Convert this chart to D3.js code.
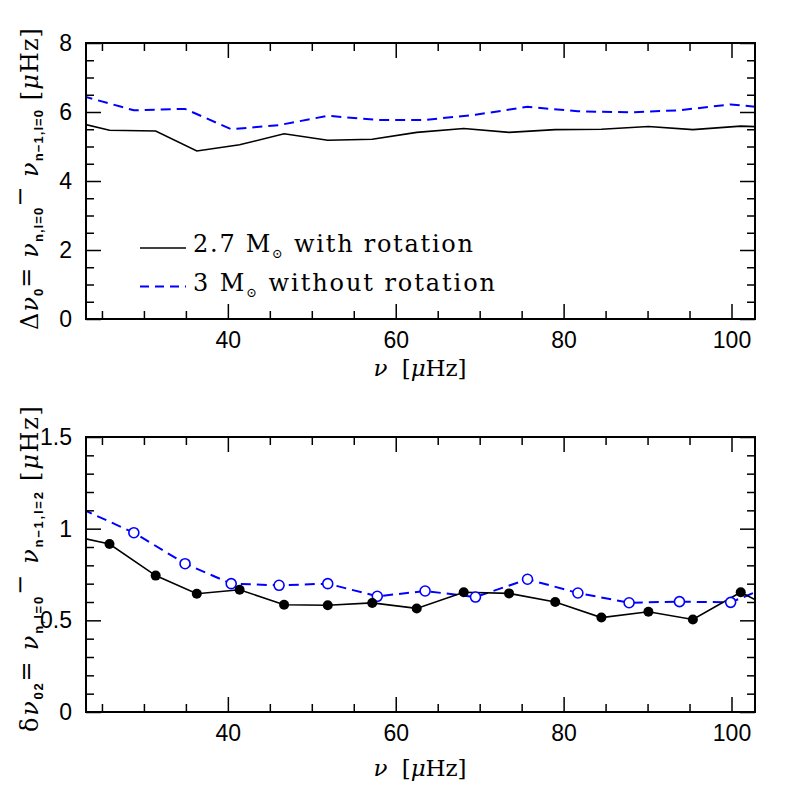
<!DOCTYPE html>
<html>
<head>
<meta charset="utf-8">
<script src="https://cdn.jsdelivr.net/npm/d3@7"></script>
<style>
  body { margin: 0; background: #fff; }
</style>
</head>
<body>
<div id="chart"></div>
<script>
// frequencies of the radial modes (muHz), 2.7 Msun model with rotation
const nuRot = [20.6, 25.9, 31.4, 36.3, 41.4, 46.7, 51.9, 57.2, 62.5, 68.1, 73.5, 79.0, 84.5, 90.1, 95.4, 101.1, 106.5];
const dnu0Rot = [5.78, 5.47, 5.45, 4.87, 5.05, 5.37, 5.18, 5.21, 5.41, 5.52, 5.41, 5.49, 5.50, 5.58, 5.49, 5.59, 5.55];
const dnu02Rot = [0.97, 0.916, 0.744, 0.645, 0.667, 0.585, 0.582, 0.595, 0.565, 0.653, 0.647, 0.600, 0.515, 0.547, 0.505, 0.653, 0.525];

// 3 Msun model without rotation
const nuNoRot = [22.7, 28.8, 34.9, 40.4, 46.1, 51.9, 57.8, 63.5, 69.5, 75.7, 81.7, 87.8, 93.8, 99.9, 106.0];
const dnu0NoRot = [6.46, 6.05, 6.09, 5.50, 5.62, 5.89, 5.77, 5.77, 5.92, 6.15, 6.02, 5.99, 6.05, 6.22, 6.08];
const dnu02NoRot = [1.105, 0.978, 0.809, 0.70, 0.691, 0.70, 0.631, 0.66, 0.627, 0.724, 0.649, 0.596, 0.602, 0.598, 0.713];

const xTicks = [40, 60, 80, 100];
const topYTicks = [0, 2, 4, 6, 8];
const botYTicks = [0, 0.5, 1, 1.5];
const legendLabels = ["2.7 M", "3 M"];
const legendRest = [" with rotation", " without rotation"];

const W = 797, H = 797;
const serif = "'DejaVu Serif', serif";
const sans = "'Liberation Sans', Arial, sans-serif";
const blue = "#0000ff";

const svg = d3.select("#chart").append("svg")
  .attr("width", W).attr("height", H)
  .style("background", "#fff");

const x = d3.scaleLinear().domain([23.1, 102.8]).range([86, 755]);

function drawPanel(id, yDomain, yRange, yMajor, yMinorStep, blackVals, blueVals, withMarkers, yLabelParts, yLabelMid, yLabelLen, xTitleY) {
  const y = d3.scaleLinear().domain(yDomain).range(yRange);
  const g = svg.append("g");
  const x0 = x.range()[0], x1 = x.range()[1];
  const yTop = yRange[1], yBot = yRange[0];

  g.append("clipPath").attr("id", id)
    .append("rect").attr("x", x0).attr("y", yTop).attr("width", x1 - x0).attr("height", yBot - yTop);

  const plot = g.append("g").attr("clip-path", `url(#${id})`);

  const line = d3.line().x(d => x(d[0])).y(d => y(d[1]));
  const rot = nuRot.map((v, i) => [v, blackVals[i]]);
  const norot = nuNoRot.map((v, i) => [v, blueVals[i]]);

  plot.append("path").datum(norot)
    .attr("d", line).attr("fill", "none")
    .attr("stroke", blue).attr("stroke-width", 2)
    .attr("stroke-dasharray", "10,6");
  plot.append("path").datum(rot)
    .attr("d", line).attr("fill", "none")
    .attr("stroke", "#000").attr("stroke-width", 1.6);

  if (withMarkers) {
    const inside = d => d[0] > x.domain()[0] && d[0] < x.domain()[1];
    plot.selectAll(".open").data(norot.filter(inside)).enter()
      .append("circle").attr("class", "open")
      .attr("cx", d => x(d[0])).attr("cy", d => y(d[1])).attr("r", 5)
      .attr("fill", "#fff").attr("stroke", blue).attr("stroke-width", 1.6);
    plot.selectAll(".filled").data(rot.filter(inside)).enter()
      .append("circle").attr("class", "filled")
      .attr("cx", d => x(d[0])).attr("cy", d => y(d[1])).attr("r", 5)
      .attr("fill", "#000");
  }

  // ticks on all four sides, pointing inward
  const xMinor = d3.range(25, 103, 5).filter(v => !xTicks.includes(v));
  const yMinor = d3.range(yDomain[0], yDomain[1] + 1e-9, yMinorStep)
    .filter(v => !yMajor.some(m => Math.abs(m - v) < 1e-9));

  const addAxis = (axis, tf) => {
    const a = g.append("g").attr("transform", tf).call(axis);
    a.select(".domain").remove();
    a.selectAll(".tick line").attr("stroke", "#000").attr("stroke-width", 1.5);
    return a;
  };

  const bx = addAxis(d3.axisBottom(x).tickValues(xTicks).tickSize(-15).tickPadding(13), `translate(0,${yBot})`);
  bx.selectAll("text").attr("font-family", sans).attr("font-size", 23).attr("fill", "#000");
  addAxis(d3.axisBottom(x).tickValues(xMinor).tickSize(-8).tickFormat(""), `translate(0,${yBot})`);
  addAxis(d3.axisTop(x).tickValues(xTicks).tickSize(-15).tickFormat(""), `translate(0,${yTop})`);
  addAxis(d3.axisTop(x).tickValues(xMinor).tickSize(-8).tickFormat(""), `translate(0,${yTop})`);

  const ly = addAxis(d3.axisLeft(y).tickValues(yMajor).tickSize(-15).tickPadding(14).tickFormat(d3.format("")), `translate(${x0},0)`);
  ly.selectAll("text").attr("font-family", sans).attr("font-size", 23).attr("fill", "#000");
  addAxis(d3.axisLeft(y).tickValues(yMinor).tickSize(-8).tickFormat(""), `translate(${x0},0)`);
  addAxis(d3.axisRight(y).tickValues(yMajor).tickSize(-15).tickFormat(""), `translate(${x1},0)`);
  addAxis(d3.axisRight(y).tickValues(yMinor).tickSize(-8).tickFormat(""), `translate(${x1},0)`);

  g.append("rect").attr("x", x0).attr("y", yTop).attr("width", x1 - x0).attr("height", yBot - yTop)
    .attr("fill", "none").attr("stroke", "#000").attr("stroke-width", 2);

  // x title
  const xt = g.append("text").attr("x", 420).attr("y", xTitleY)
    .attr("text-anchor", "middle").attr("font-family", serif).attr("font-size", 23)
    .attr("textLength", 93).attr("lengthAdjust", "spacing");
  xt.append("tspan").attr("font-style", "italic").text("ν");
  xt.append("tspan").text("\u00a0\u00a0[");
  xt.append("tspan").attr("font-style", "italic").text("μ");
  xt.append("tspan").text("Hz]");

  // y title
  const yt = g.append("text")
    .attr("transform", `translate(38,${yLabelMid}) rotate(-90)`)
    .attr("text-anchor", "middle")
    .attr("font-family", serif).attr("font-size", 24)
    .attr("textLength", yLabelLen).attr("lengthAdjust", "spacing");
  let shift = 0;
  yLabelParts.forEach(p => {
    const s = p.sub ? 5 : p.sup ? -10 : p.eq ? -4 : 0;
    const ts = yt.append("tspan").attr("dy", s - shift).text(p.t);
    if (p.sub) ts.attr("font-family", sans).attr("font-weight", "bold").attr("font-size", 13);
    if (p.it) ts.attr("font-style", "italic");
    shift = s;
  });

  return y;
}

drawPanel("clipTop", [0, 8], [319, 43], topYTicks, 0.5, dnu0Rot, dnu0NoRot, false, [
  {t: "Δ"}, {t: "ν", it: 1}, {t: "0", sub: 1}, {t: "=", eq: 1}, {t: "\u00a0"}, {t: "ν", it: 1}, {t: "n,l=0", sub: 1},
  {t: "−", sup: 1}, {t: "\u00a0"}, {t: "ν", it: 1}, {t: "n−1,l=0", sub: 1}, {t: "\u00a0["}, {t: "μ", it: 1}, {t: "Hz]"}
], 179, 302, 376);

drawPanel("clipBot", [0, 1.5], [712, 437], botYTicks, 0.1, dnu02Rot, dnu02NoRot, true, [
  {t: "δ"}, {t: "ν", it: 1}, {t: "02", sub: 1}, {t: "=", eq: 1}, {t: "\u00a0"}, {t: "ν", it: 1}, {t: "n,l=0", sub: 1},
  {t: "−", sup: 1}, {t: "\u00a0"}, {t: "ν", it: 1}, {t: "n−1,l=2", sub: 1}, {t: "\u00a0["}, {t: "μ", it: 1}, {t: "Hz]"}
], 569, 326, 776);

// legend in the top panel
const legend = svg.append("g");
legendLabels.forEach((lab, i) => {
  const ly = 248 + i * 38.5;
  legend.append("line").attr("x1", 140).attr("x2", 186).attr("y1", ly).attr("y2", ly)
    .attr("stroke", i === 0 ? "#000" : blue).attr("stroke-width", i === 0 ? 1.6 : 2)
    .attr("stroke-dasharray", i === 0 ? null : "9,6");
  const t = legend.append("text").attr("x", 193).attr("y", ly + 4)
    .attr("font-family", serif).attr("font-size", 24)
    .attr("textLength", i === 0 ? 280 : 302).attr("lengthAdjust", "spacing");
  t.append("tspan").text(lab);
  t.append("tspan").attr("dy", 6).attr("font-size", 13).text("⊙");
  t.append("tspan").attr("dy", -6).text(legendRest[i]);
});
</script>
</body>
</html>
